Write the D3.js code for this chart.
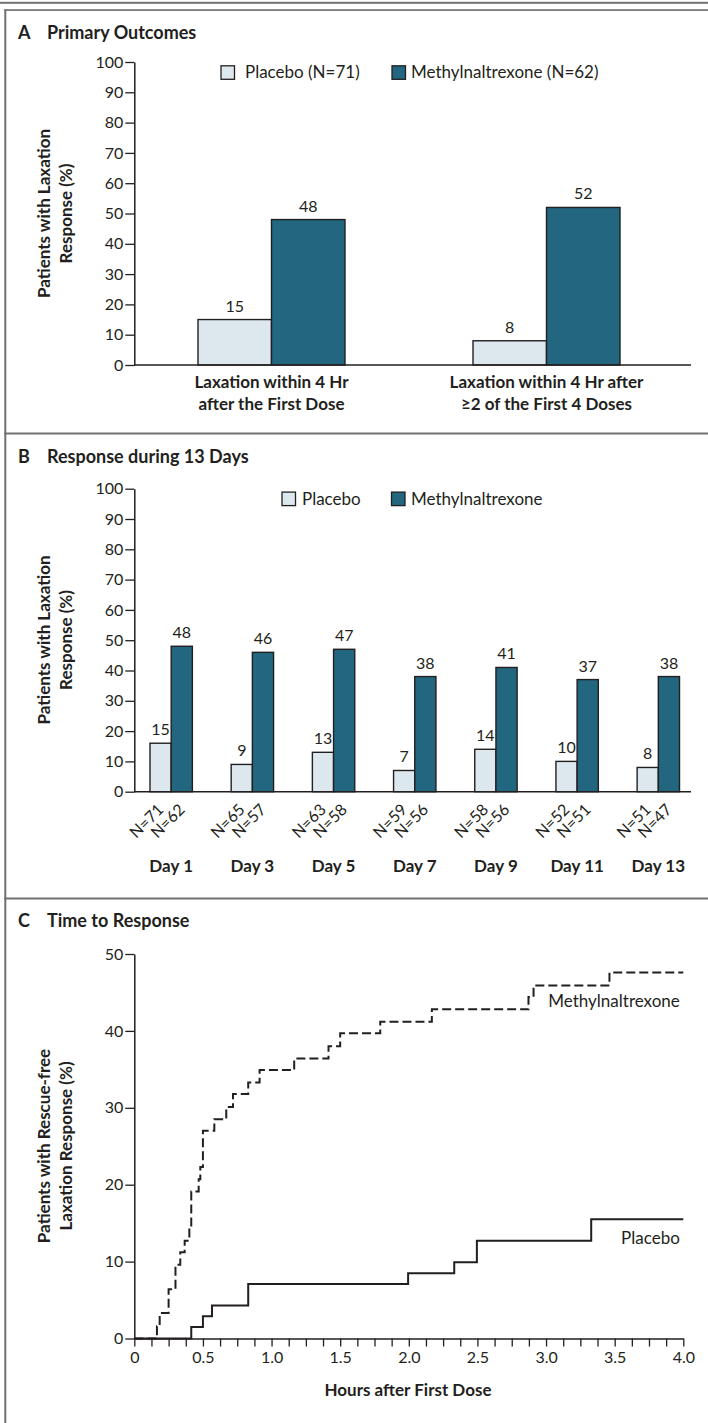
<!DOCTYPE html>
<html>
<head>
<meta charset="utf-8">
<script src="https://cdn.jsdelivr.net/npm/d3@7"></script>
<style>
  body { margin: 0; background: #fff; }
  svg text { font-family: Lato, "Open Sans", sans-serif; fill: #231f20; }
</style>
</head>
<body>
<svg id="chart"></svg>
<script>
// ---------- data ----------
// panel A - primary outcomes
const outcomeKeys = ["first", "twoOfFour"];
const outcomeLines = [
  ["Laxation within 4 Hr", "after the First Dose"],
  ["Laxation within 4 Hr after", "\u22652 of the First 4 Doses"]
];
const outcomePlacebo = [15, 8];
const outcomeMethyl = [48, 52];
const pctTicks = [0, 10, 20, 30, 40, 50, 60, 70, 80, 90, 100];

// panel B - response during 13 days
const dayNames = ["Day 1", "Day 3", "Day 5", "Day 7", "Day 9", "Day 11", "Day 13"];
const dayPlacebo = [16, 9, 13, 7, 14, 10, 8];
const dayPlaceboLabels = ["15", "9", "13", "7", "14", "10", "8"];
const dayMethyl = [48, 46, 47, 38, 41, 37, 38];
const nPlacebo = [71, 65, 63, 59, 58, 52, 51];
const nMethyl = [62, 57, 58, 56, 56, 51, 47];

// panel C - time to response (step curves)
const methylHours = [0, 0.165, 0.185, 0.25, 0.30, 0.335, 0.367, 0.401, 0.415, 0.469, 0.481, 0.50, 0.583, 0.670, 0.719, 0.830, 0.913, 1.165, 1.415, 1.50, 1.792, 2.168, 2.872, 2.909, 3.462, 4.0];
const methylPct = [0, 1.6, 3.3, 6.4, 9.6, 11.2, 12.7, 14.3, 19.1, 20.7, 22.3, 27.0, 28.5, 30.1, 31.8, 33.3, 34.9, 36.4, 38.0, 39.7, 41.2, 42.8, 44.4, 45.9, 47.6, 47.6];
const placeboHours = [0, 0.415, 0.50, 0.566, 0.830, 1.995, 2.331, 2.496, 3.329, 4.0];
const placeboPct = [0, 1.5, 2.9, 4.3, 7.1, 8.5, 9.9, 12.7, 15.5, 15.5];
const hourTicks = [0, 0.5, 1.0, 1.5, 2.0, 2.5, 3.0, 3.5, 4.0];
const hourLabels = ["0", "0.5", "1.0", "1.5", "2.0", "2.5", "3.0", "3.5", "4.0"];
const timeTicks = [0, 10, 20, 30, 40, 50];

// ---------- styles ----------
const placeboFill = "#dde8ee";
const methylFill = "#22677f";
const ink = "#231f20";
const frameGray = "#707070";

const W = 708, H = 1423;
const svg = d3.select("#chart").attr("width", W).attr("height", H);

//frame: top rule, box top, left side and panel separators
svg.append("rect").attr("x", 0).attr("y", 1.8).attr("width", W).attr("height", 2).attr("fill", frameGray);
svg.append("rect").attr("x", 4.3).attr("y", 9.2).attr("width", W).attr("height", 1.7).attr("fill", frameGray);
svg.append("rect").attr("x", 4.3).attr("y", 9.2).attr("width", 2).attr("height", H).attr("fill", frameGray);
[433.5, 898.5].forEach(y => {
  svg.append("rect").attr("x", 4.3).attr("y", y - 1).attr("width", W).attr("height", 2).attr("fill", frameGray);
});

// helper for the panel titles
function panelTitle(letter, title, y) {
  const t = svg.append("text").attr("y", y).attr("font-size", "18px").attr("font-weight", "700");
  t.append("tspan").attr("x", 18).text(letter);
  t.append("tspan").attr("x", 47).text(title);
}

// helper for the two line rotated y title
function yTitle(lines, cy) {
  const xs = [50, 71.5];
  lines.forEach((s, i) => {
    svg.append("text")
      .attr("transform", `translate(${xs[i]},${cy}) rotate(-90)`)
      .attr("text-anchor", "middle")
      .attr("font-size", "17px")
      .attr("font-weight", "700")
      .text(s);
  });
}

// style an axis group
function styleAxis(g) {
  g.select(".domain").attr("stroke", ink).attr("stroke-width", 1.5);
  g.selectAll(".tick line").attr("stroke", ink).attr("stroke-width", 1.3);
  g.selectAll(".tick text").attr("font-size", "16px").attr("fill", ink)
    .attr("font-family", "Lato, 'Open Sans', sans-serif");
}

// legend: square + label
function legendItem(x, y, fill, label, textX) {
  svg.append("rect").attr("x", x).attr("y", y - 6.7).attr("width", 13.5).attr("height", 13.5)
    .attr("fill", fill).attr("stroke", ink).attr("stroke-width", 1.3);
  svg.append("text").attr("x", textX).attr("y", y).attr("dy", "0.35em")
    .attr("font-size", "17px").text(label);
}

// ================= PANEL A =================
panelTitle("A", "Primary Outcomes", 38.5);

const yA = d3.scaleLinear().domain([0, 100]).range([365, 62]);
const xA = d3.scaleBand().domain(outcomeKeys).range([134, 684]).paddingInner(0.4655).paddingOuter(0.2327);
const bwA = xA.bandwidth() / 2;

const gA = svg.append("g");
outcomeKeys.forEach((k, i) => {
  //placebo bar
  gA.append("rect")
    .attr("x", xA(k)).attr("y", yA(outcomePlacebo[i]))
    .attr("width", bwA).attr("height", yA(0) - yA(outcomePlacebo[i]))
    .attr("fill", placeboFill).attr("stroke", ink).attr("stroke-width", 1.4);
  //methylnaltrexone bar
  gA.append("rect")
    .attr("x", xA(k) + bwA).attr("y", yA(outcomeMethyl[i]))
    .attr("width", bwA).attr("height", yA(0) - yA(outcomeMethyl[i]))
    .attr("fill", methylFill).attr("stroke", ink).attr("stroke-width", 1.4);
  //value labels
  gA.append("text").attr("x", xA(k) + bwA / 2).attr("y", yA(outcomePlacebo[i]) - 8)
    .attr("text-anchor", "middle").attr("font-size", "16px").text(outcomePlacebo[i]);
  gA.append("text").attr("x", xA(k) + bwA * 1.5).attr("y", yA(outcomeMethyl[i]) - 8)
    .attr("text-anchor", "middle").attr("font-size", "16px").text(outcomeMethyl[i]);
  //category labels
  outcomeLines[i].forEach((line, j) => {
    gA.append("text").attr("x", xA(k) + bwA).attr("y", yA(0) + 23 + j * 22)
      .attr("text-anchor", "middle").attr("font-size", "17px").attr("font-weight", "700").text(line);
  });
});

//baseline of panel A
svg.append("line").attr("x1", 134).attr("x2", 691).attr("y1", yA(0)).attr("y2", yA(0))
  .attr("stroke", ink).attr("stroke-width", 1.5);

const axA = svg.append("g").attr("transform", "translate(134.3,0)")
  .call(d3.axisLeft(yA).tickValues(pctTicks).tickSize(9).tickSizeOuter(0).tickPadding(2));
styleAxis(axA);

yTitle(["Patients with Laxation", "Response (%)"], 213.5);
legendItem(221, 72.5, placeboFill, "Placebo (N=71)", 245);
legendItem(392, 72.5, methylFill, "Methylnaltrexone (N=62)", 411);

// ================= PANEL B =================
panelTitle("B", "Response during 13 Days", 462.7);

const yB = d3.scaleLinear().domain([0, 100]).range([791.7, 488.7]);
const xB = d3.scaleBand().domain(dayNames).range([134, 695.5]).paddingInner(0.478).paddingOuter(0.197);
const bwB = xB.bandwidth() / 2;

const gB = svg.append("g");
dayNames.forEach((d, i) => {
  const x0 = xB(d);
  gB.append("rect")
    .attr("x", x0).attr("y", yB(dayPlacebo[i]))
    .attr("width", bwB).attr("height", yB(0) - yB(dayPlacebo[i]))
    .attr("fill", placeboFill).attr("stroke", ink).attr("stroke-width", 1.4);
  gB.append("rect")
    .attr("x", x0 + bwB).attr("y", yB(dayMethyl[i]))
    .attr("width", bwB).attr("height", yB(0) - yB(dayMethyl[i]))
    .attr("fill", methylFill).attr("stroke", ink).attr("stroke-width", 1.4);
  gB.append("text").attr("x", x0 + bwB / 2).attr("y", yB(dayPlacebo[i]) - 8)
    .attr("text-anchor", "middle").attr("font-size", "16px").text(dayPlaceboLabels[i]);
  gB.append("text").attr("x", x0 + bwB * 1.5).attr("y", yB(dayMethyl[i]) - 8)
    .attr("text-anchor", "middle").attr("font-size", "16px").text(dayMethyl[i]);
  //the rotated N labels under each bar
  gB.append("text")
    .attr("transform", `translate(${x0 + bwB / 2 + 4},${yB(0) + 19}) rotate(-45)`)
    .attr("text-anchor", "end").attr("font-size", "16px").text("N=" + nPlacebo[i]);
  gB.append("text")
    .attr("transform", `translate(${x0 + bwB * 1.5 + 4},${yB(0) + 19}) rotate(-45)`)
    .attr("text-anchor", "end").attr("font-size", "16px").text("N=" + nMethyl[i]);
  //day label
  gB.append("text").attr("x", x0 + bwB).attr("y", 871.5)
    .attr("text-anchor", "middle").attr("font-size", "17px").attr("font-weight", "700").text(d);
});

svg.append("line").attr("x1", 134).attr("x2", 691).attr("y1", yB(0)).attr("y2", yB(0))
  .attr("stroke", ink).attr("stroke-width", 1.5);

const axB = svg.append("g").attr("transform", "translate(134.3,0)")
  .call(d3.axisLeft(yB).tickValues(pctTicks).tickSize(9).tickSizeOuter(0).tickPadding(2));
styleAxis(axB);

yTitle(["Patients with Laxation", "Response (%)"], 640);
legendItem(282, 498.8, placeboFill, "Placebo", 302);
legendItem(391.5, 498.8, methylFill, "Methylnaltrexone", 411);

// ================= PANEL C =================
panelTitle("C", "Time to Response", 927);

const xC = d3.scaleLinear().domain([0, 4]).range([134.3, 683.3]);
const yC = d3.scaleLinear().domain([0, 50]).range([1338.5, 954]);

//minor ticks every eighth of an hour, labels only on the half hours
const minorTicks = d3.range(0, 4.0001, 0.125);
const axCx = svg.append("g").attr("transform", `translate(0,${yC(0)})`)
  .call(d3.axisBottom(xC).tickValues(minorTicks).tickSize(8).tickSizeOuter(0).tickPadding(5)
    .tickFormat(v => {
      const i = hourTicks.findIndex(h => Math.abs(h - v) < 1e-6);
      return i >= 0 ? hourLabels[i] : "";
    }));
styleAxis(axCx);

const axCy = svg.append("g").attr("transform", "translate(134.3,0)")
  .call(d3.axisLeft(yC).tickValues(timeTicks).tickSize(9).tickSizeOuter(0).tickPadding(2));
styleAxis(axCy);

const stepLine = d3.line()
  .x(d => xC(d[0]))
  .y(d => yC(d[1]))
  .curve(d3.curveStepAfter);

//placebo curve - solid
svg.append("path")
  .datum(placeboHours.map((h, i) => [h, placeboPct[i]]))
  .attr("d", stepLine)
  .attr("fill", "none").attr("stroke", ink).attr("stroke-width", 2);

//methylnaltrexone curve - dashed
svg.append("path")
  .datum(methylHours.map((h, i) => [h, methylPct[i]]))
  .attr("d", stepLine)
  .attr("fill", "none").attr("stroke", ink).attr("stroke-width", 2)
  .attr("stroke-dasharray", "9,4");

svg.append("text").attr("x", xC(4) - 3.5).attr("y", yC(43.1))
  .attr("text-anchor", "end").attr("font-size", "17px").text("Methylnaltrexone");
svg.append("text").attr("x", xC(4) - 3.5).attr("y", yC(12.3))
  .attr("text-anchor", "end").attr("font-size", "17px").text("Placebo");

yTitle(["Patients with Rescue-free", "Laxation Response (%)"], 1146);

svg.append("text").attr("x", 408).attr("y", 1396)
  .attr("text-anchor", "middle").attr("font-size", "17px").attr("font-weight", "700")
  .text("Hours after First Dose");
</script>
</body>
</html>
